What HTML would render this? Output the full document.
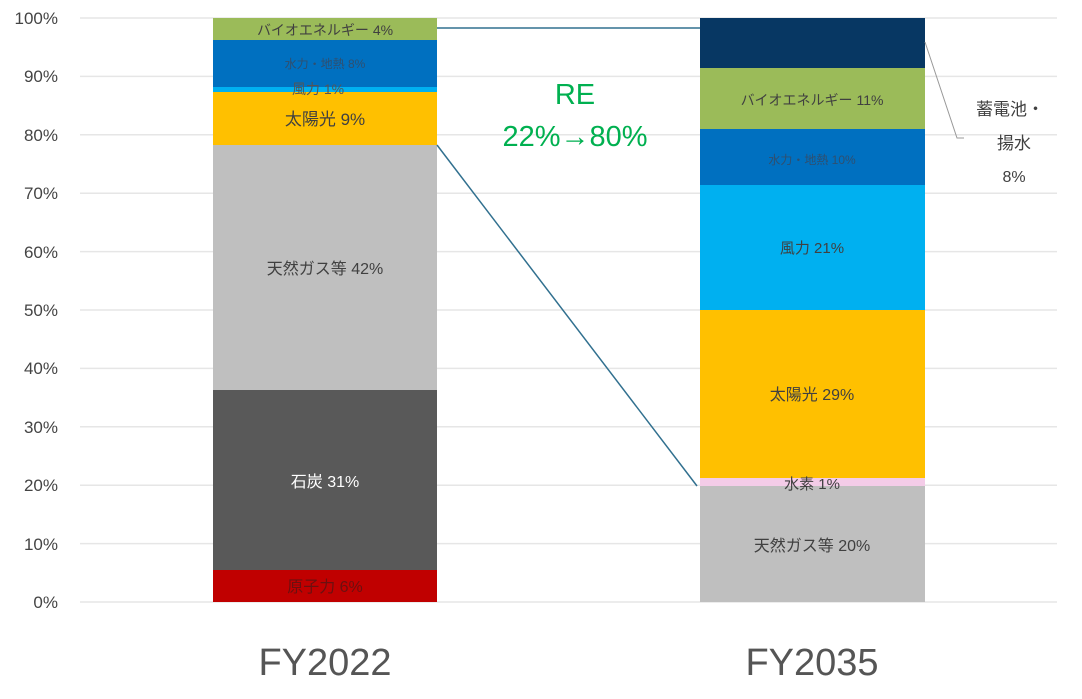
<!DOCTYPE html>
<html><head><meta charset="utf-8"><style>
body{margin:0;background:#fff;}
svg text{font-family:"Liberation Sans","Noto Sans CJK JP",sans-serif;}
</style></head><body>
<svg width="1082" height="694" viewBox="0 0 1082 694" xmlns="http://www.w3.org/2000/svg">
<g stroke="#e6e6e6" stroke-width="1.5">
<line x1="80" x2="1057" y1="18" y2="18"/><line x1="80" x2="1057" y1="76.4" y2="76.4"/>
<line x1="80" x2="1057" y1="134.8" y2="134.8"/><line x1="80" x2="1057" y1="193.2" y2="193.2"/>
<line x1="80" x2="1057" y1="251.6" y2="251.6"/><line x1="80" x2="1057" y1="310" y2="310"/>
<line x1="80" x2="1057" y1="368.4" y2="368.4"/><line x1="80" x2="1057" y1="426.8" y2="426.8"/>
<line x1="80" x2="1057" y1="485.2" y2="485.2"/><line x1="80" x2="1057" y1="543.6" y2="543.6"/>
<line x1="80" x2="1057" y1="602" y2="602"/>
</g>
<g font-size="17" fill="#444" text-anchor="end">
<text x="58" y="24">100%</text><text x="58" y="82">90%</text><text x="58" y="141">80%</text>
<text x="58" y="199">70%</text><text x="58" y="258">60%</text><text x="58" y="316">50%</text>
<text x="58" y="374">40%</text><text x="58" y="433">30%</text><text x="58" y="491">20%</text>
<text x="58" y="550">10%</text><text x="58" y="608">0%</text>
</g>
<rect x="213" y="570" width="224" height="32" fill="#c00000"/>
<rect x="213" y="390" width="224" height="180" fill="#595959"/>
<rect x="213" y="145" width="224" height="245" fill="#bfbfbf"/>
<rect x="213" y="92" width="224" height="53" fill="#ffc000"/>
<rect x="213" y="87" width="224" height="5" fill="#00b0f0"/>
<rect x="213" y="40" width="224" height="47" fill="#0070c0"/>
<rect x="213" y="18" width="224" height="22" fill="#9bbb59"/>
<rect x="700" y="486" width="225" height="116" fill="#bfbfbf"/>
<rect x="700" y="478" width="225" height="8" fill="#f4cce8"/>
<rect x="700" y="310" width="225" height="168" fill="#ffc000"/>
<rect x="700" y="185" width="225" height="125" fill="#00b0f0"/>
<rect x="700" y="129" width="225" height="56" fill="#0070c0"/>
<rect x="700" y="68" width="225" height="61" fill="#9bbb59"/>
<rect x="700" y="18" width="225" height="50" fill="#073763"/>
<line x1="437" y1="28" x2="700" y2="28" stroke="#31708f" stroke-width="1.5"/>
<line x1="437" y1="145" x2="697" y2="486" stroke="#31708f" stroke-width="1.5"/>
<polyline points="925,42 957,138 964,138" fill="none" stroke="#999" stroke-width="1"/>
<g text-anchor="middle" fill="#404040">
<text x="325" y="35" font-size="14">バイオエネルギー 4%</text>
<text x="325" y="68" font-size="12" fill="#2f4f6f">水力・地熱 8%</text>
<text x="318" y="94" font-size="14" fill="#555">風力 1%</text>
<text x="325" y="125" font-size="17">太陽光 9%</text>
<text x="325" y="274" font-size="16">天然ガス等 42%</text>
<text x="325" y="487" font-size="16" fill="#fff">石炭 31%</text>
<text x="325" y="592" font-size="16" fill="#6b1010">原子力 6%</text>
<text x="812" y="105" font-size="14">バイオエネルギー 11%</text>
<text x="812" y="164" font-size="12" fill="#2f4f6f">水力・地熱 10%</text>
<text x="812" y="253" font-size="15">風力 21%</text>
<text x="812" y="400" font-size="16">太陽光 29%</text>
<text x="812" y="489" font-size="15">水素 1%</text>
<text x="812" y="551" font-size="16">天然ガス等 20%</text>
<text x="1010" y="115" font-size="17">蓄電池・</text>
<text x="1014" y="149" font-size="17">揚水</text>
<text x="1014" y="182" font-size="16">8%</text>
</g>
<g text-anchor="middle" fill="#00b050" font-size="29">
<text x="575" y="104">RE</text>
<text x="575" y="146">22%→80%</text>
</g>
<g text-anchor="middle" fill="#555" font-size="38">
<text x="325" y="675">FY2022</text>
<text x="812" y="675">FY2035</text>
</g>
</svg>
</body></html>
